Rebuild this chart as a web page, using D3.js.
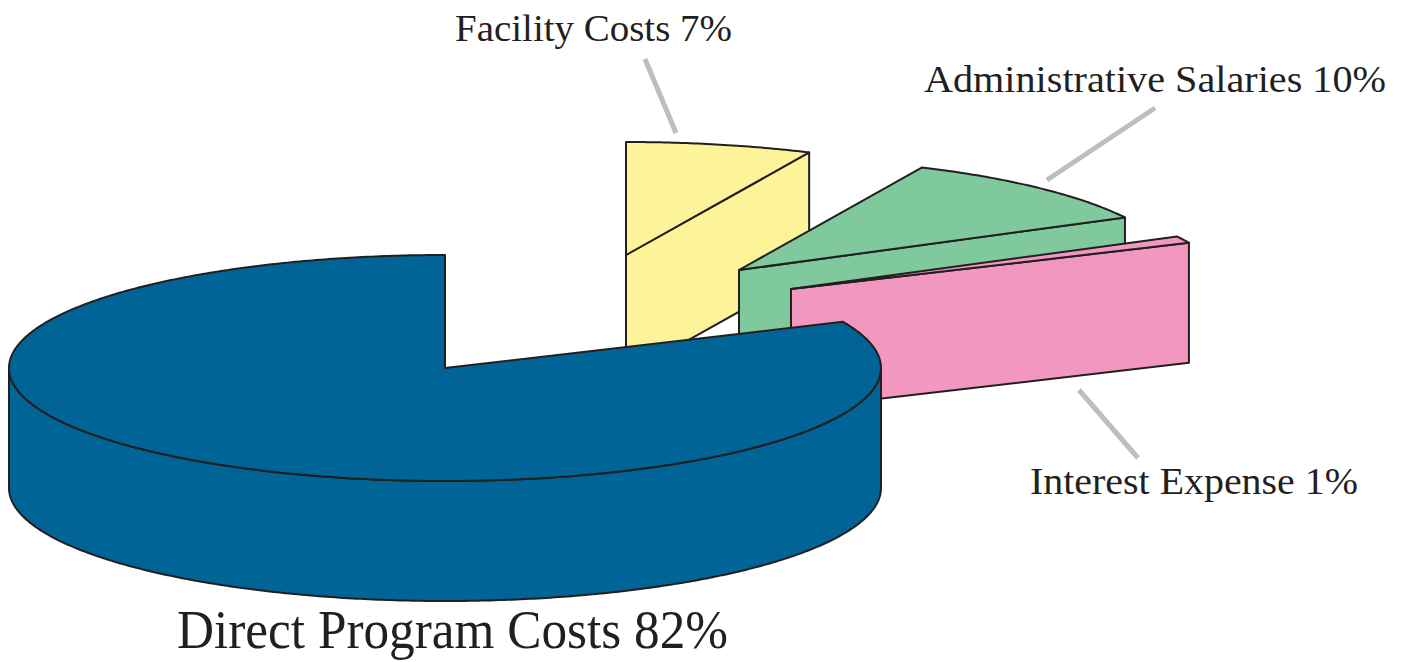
<!DOCTYPE html>
<html lang="en">
<head>
<meta charset="utf-8" />
<title>Program expenses</title>
<script src="https://d3js.org/d3.v7.min.js"></script>
<style>
    html, body { margin: 0; background: #fff; }
    svg { display: block; }
    .slice path { stroke: #231f20; stroke-width: 2; stroke-linejoin: round; }
    .leader { stroke: #bcbec0; stroke-width: 5; }
    .label { font-family: "Liberation Serif", serif; fill: #231f20; }
</style>
</head>
<body>
<svg id="chart" width="1401" height="662"></svg>
<script>
    // values in percent, clockwise from 12 o'clock.,
    // the printed labels are these rounded
    let categories = ["Facility Costs", "Administrative Salaries", "Interest Expense", "Direct Program Costs"]
    let values = [6.9, 10.4, 1.0, 81.7]
    let colors = ["#fdf399", "#80c99c", "#f298c0", "#006496"]

    // where each slice's centre sits once the pie is pulled apart
    let centers = [[626, 255], [739, 270], [791, 289], [445, 368]]
    let rx = 436, ry = 113, depth = 120

    // labels and leader lines
    let labelBox = [
        {x: 455, y: 41, w: 277, size: 37},
        {x: 924, y: 92, w: 462, size: 37},
        {x: 1030, y: 494, w: 328, size: 37},
        {x: 177, y: 648, w: 551, size: 54}
    ]
    let leaders = [
        [[645, 59], [676, 133]],
        [[1155, 108], [1047, 180]],
        [[1079, 390], [1138, 458]]
    ]

    let svg = d3.select("#chart")

    let xScale = d3.scaleLinear().domain([-1, 1]).range([-rx, rx])
    let yScale = d3.scaleLinear().domain([-1, 1]).range([-ry, ry])

    let slices = d3.pie().sort(null)(values)

    // angle is measured clockwise from the top, as d3.pie gives it
    let rimX = a => xScale(Math.sin(a))
    let rimY = a => yScale(-Math.cos(a))
    let line = d3.line()

    function arcPoints(a0, a1, dy) {
        let n = Math.max(2, Math.ceil((a1 - a0) / 0.01))
        return d3.range(n + 1).map(i => {
            let a = a0 + (a1 - a0) * i / n
            return [rimX(a), rimY(a) + dy]
        })
    }

    // draw back to front, the big slice goes on top of the others
    slices.forEach((d, i) => {
        let g = svg.append("g")
            .attr("class", "slice")
            .attr("transform", `translate(${centers[i]})`)
            .attr("fill", colors[i])

        // outer wall, only the front half of the rim can be seen
        let w0 = Math.max(d.startAngle, Math.PI / 2)
        let w1 = Math.min(d.endAngle, Math.PI * 1.5)
        if (w1 > w0) {
            let top = arcPoints(w0, w1, 0)
            let bottom = arcPoints(w0, w1, depth).reverse()
            g.append("path").attr("d", line(top.concat(bottom)) + "Z")
        }

        // cut face at the end of the slice
        if (d.endAngle < Math.PI) {
            let ex = rimX(d.endAngle), ey = rimY(d.endAngle)
            g.append("path").attr("d", line([[0, 0], [ex, ey], [ex, ey + depth], [0, depth]]) + "Z")
        }

        // top of the slice
        let wedge = [[0, 0]].concat(arcPoints(d.startAngle, d.endAngle, 0))
        g.append("path").attr("d", line(wedge) + "Z")
    })

    svg.selectAll(".leader")
        .data(leaders)
        .enter()
        .append("line")
        .attr("class", "leader")
        .attr("x1", d => d[0][0])
        .attr("y1", d => d[0][1])
        .attr("x2", d => d[1][0])
        .attr("y2", d => d[1][1])

    svg.selectAll(".label")
        .data(categories)
        .enter()
        .append("text")
        .attr("class", "label")
        .attr("x", (d, i) => labelBox[i].x)
        .attr("y", (d, i) => labelBox[i].y)
        .attr("font-size", (d, i) => labelBox[i].size)
        .attr("textLength", (d, i) => labelBox[i].w)
        .attr("lengthAdjust", "spacingAndGlyphs")
        .text((d, i) => d + " " + Math.round(values[i]) + "%")
</script>
</body>
</html>
